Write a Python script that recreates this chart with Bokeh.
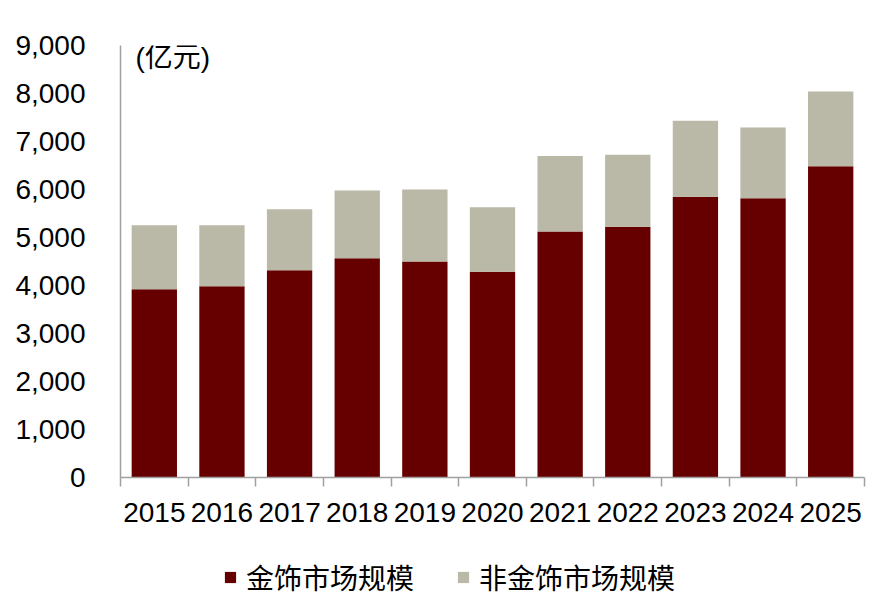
from bokeh.plotting import figure
from bokeh.layouts import column
from bokeh.models import (ColumnDataSource, FixedTicker, NumeralTickFormatter,
                          Range1d, Legend, LegendItem, Label)
from bokeh.embed import file_html
from bokeh.resources import INLINE

years = ["2015", "2016", "2017", "2018", "2019", "2020", "2021", "2022", "2023", "2024", "2025"]
gold = [3920, 3985, 4320, 4570, 4500, 4285, 5125, 5225, 5850, 5820, 6485]
nongold = [1335, 1270, 1270, 1410, 1500, 1345, 1575, 1500, 1580, 1470, 1555]
y_ticks = [0, 1000, 2000, 3000, 4000, 5000, 6000, 7000, 8000, 9000]
series_names = ["金饰市场规模", "非金饰市场规模"]
unit_label = "(亿元)"

FONT = "Liberation Sans, Arial, Noto Sans CJK SC"
RED = "#660000"
GREY = "#BAB8A6"

xs = [i + 0.5 for i in range(len(years))]
source = ColumnDataSource(dict(x=xs, gold=gold, nongold=nongold))

p = figure(width=872, height=536, output_backend="svg", toolbar_location=None,
           x_range=Range1d(0, len(years)), y_range=Range1d(0, 9000),
           min_border_left=120, min_border_right=8, min_border_top=45,
           min_border_bottom=59)

rs = p.vbar_stack(["gold", "nongold"], x="x", width=0.67, source=source,
                  color=[RED, GREY], line_color=None)

p.xgrid.visible = False
p.ygrid.visible = False
p.outline_line_color = None
p.background_fill_color = "white"
p.border_fill_color = "white"

# x axis: labels at centers, ticks at boundaries
xa = p.xaxis[0]
xa.ticker = FixedTicker(ticks=xs, minor_ticks=list(range(len(years) + 1)))
xa.major_label_overrides = {x: y for x, y in zip(xs, years)}
xa.major_tick_out = 0
xa.major_tick_in = 0
xa.minor_tick_out = 9
xa.minor_tick_in = 0
xa.minor_tick_line_color = "#A0A0A0"
xa.minor_tick_line_width = 1.5
xa.axis_line_color = "#A0A0A0"
xa.axis_line_width = 1.5
xa.major_label_text_font = FONT
xa.major_label_text_font_size = "28px"
xa.major_label_text_color = "black"
xa.major_label_standoff = 16

ya = p.yaxis[0]
ya.ticker = FixedTicker(ticks=y_ticks, minor_ticks=[])
ya.formatter = NumeralTickFormatter(format="0,0")
ya.major_tick_out = 0
ya.major_tick_in = 0
ya.minor_tick_out = 0
ya.minor_tick_in = 0
ya.axis_line_color = "#A0A0A0"
ya.axis_line_width = 1.5
ya.major_label_text_font = FONT
ya.major_label_text_font_size = "28px"
ya.major_label_text_color = "black"
ya.major_label_standoff = 35

p.add_layout(Label(x=0.22, y=8750, text=unit_label, text_font=FONT,
                   text_font_size="28px", text_baseline="middle",
                   text_align="left", text_color="black"))

# legend strip below the chart
lg = figure(width=872, height=62, output_backend="svg", toolbar_location=None,
            x_axis_type=None, y_axis_type=None, min_border=0,
            x_range=Range1d(0, len(years)), y_range=Range1d(0, 9000))
lg.xgrid.visible = False
lg.ygrid.visible = False
lg.outline_line_color = None
lr = lg.vbar_stack(["gold", "nongold"], x="x", width=0.67, source=source,
                   color=[RED, GREY], line_color=None)
for r in lr:
    r.visible = False

legend = Legend(items=[LegendItem(label=series_names[0], renderers=[lr[0]]),
                       LegendItem(label=series_names[1], renderers=[lr[1]])],
                orientation="horizontal", location=(103, 1),
                glyph_width=14, glyph_height=14, label_standoff=9, spacing=42,
                padding=0, margin=0, border_line_color=None,
                background_fill_alpha=0, label_text_font=FONT,
                label_text_font_size="28px", label_height=28,
                label_text_color="black")
lg.add_layout(legend, "center")

open("out.html", "w").write(file_html(column(p, lg), INLINE))
